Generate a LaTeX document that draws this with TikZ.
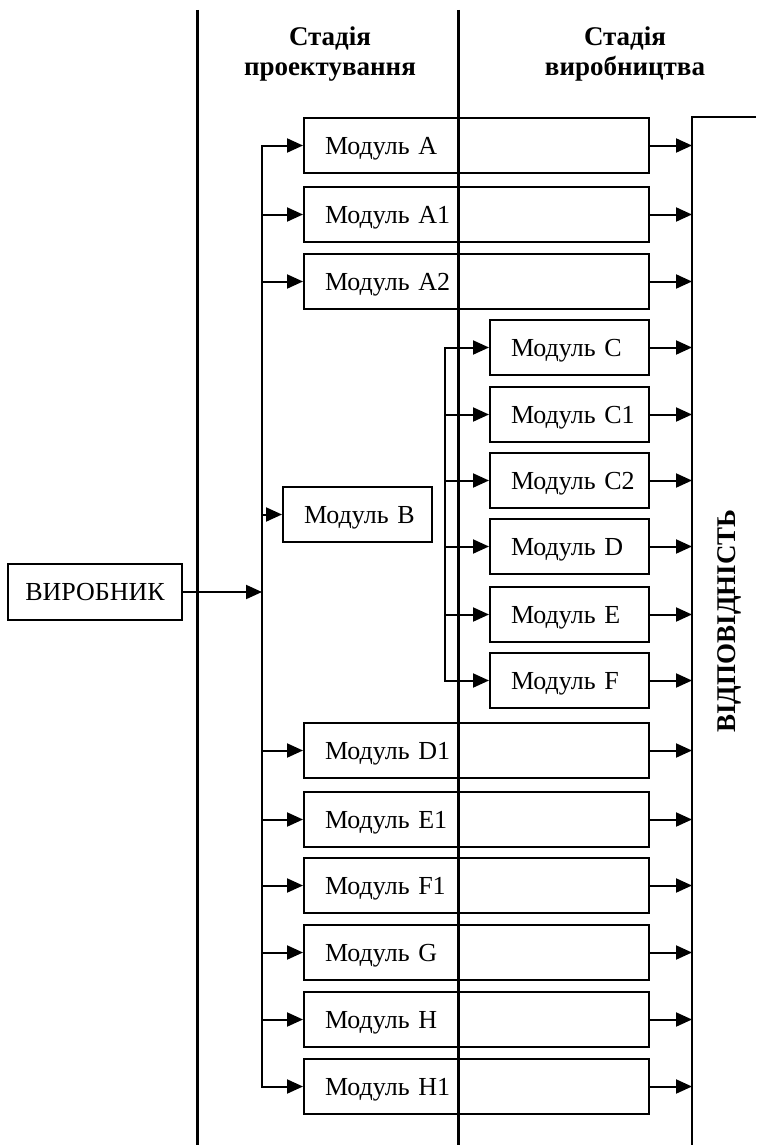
\documentclass[tikz,border=0pt]{standalone}
\usepackage{fontspec}
\setmainfont{Liberation Serif}
\usetikzlibrary{arrows.meta}
\begin{document}
\begin{tikzpicture}[x=1pt,y=-1pt,
  every node/.style={font=\fontsize{26}{30}\selectfont},
  modbox/.style={draw, line width=2pt, minimum height=55pt, inner xsep=21pt, inner ysep=0pt, text depth=0pt, align=left, anchor=north west},
  widebox/.style={modbox, text width=303pt},
  cbox/.style={modbox, text width=117pt},
  bbox/.style={modbox, text width=107pt},
  conn/.style={line width=2pt},
  arr/.style={conn, -{Triangle[length=16pt,width=14pt]}},
  stage/.style={line width=3pt},
  hdr/.style={font=\fontsize{27}{30}\selectfont\bfseries, align=center},
]
\useasboundingbox (0,0) rectangle (756,1145);

% boxes
\node[widebox] (A)  at (303,117) {\mbox{Модуль A}};
\node[widebox] (A1) at (303,186) {\mbox{Модуль A1}};
\node[widebox] (A2) at (303,253) {\mbox{Модуль A2}};
\node[bbox]    (B)  at (282,486) {\mbox{Модуль B}};
\node[cbox]    (C)  at (489,319) {\mbox{Модуль C}};
\node[cbox]    (C1) at (489,386) {\mbox{Модуль C1}};
\node[cbox]    (C2) at (489,452) {\mbox{Модуль C2}};
\node[cbox]    (D)  at (489,518) {\mbox{Модуль D}};
\node[cbox]    (E)  at (489,586) {\mbox{Модуль E}};
\node[cbox]    (F)  at (489,652) {\mbox{Модуль F}};
\node[widebox] (D1) at (303,722) {\mbox{Модуль D1}};
\node[widebox] (E1) at (303,791) {\mbox{Модуль E1}};
\node[widebox] (F1) at (303,857) {\mbox{Модуль F1}};
\node[widebox] (G)  at (303,924) {\mbox{Модуль G}};
\node[widebox] (H)  at (303,991) {\mbox{Модуль H}};
\node[widebox] (H1) at (303,1058) {\mbox{Модуль H1}};

\node[draw, line width=2pt, minimum width=174pt, minimum height=56pt, inner sep=0pt, text depth=0pt] (V) at (95,592) {ВИРОБНИК};

% headers
\node[hdr] (h1) at (330,54) {Стадія\\проектування};
\node[hdr] (h2) at (625,54) {Стадія\\виробництва};
\node[font=\fontsize{27}{30}\selectfont\bfseries, rotate=90] (R) at (729,621) {ВІДПОВІДНІСТЬ};

% stage lines
\coordinate (s1t) at (197,10);
\coordinate (s1b) at (197,1145);
\coordinate (s2t) at (458,10);
\coordinate (s2b) at (458,1145);
\draw[stage] (s1t) -- (s1b);
\draw[stage] (s2t) -- (s2b);

% right frame
\coordinate (rt) at (692,117);
\coordinate (rr) at (756,117);
\coordinate (rb) at (692,1145);
\draw[line width=1.6pt] (rr) -- (rt) -- (rb);

% trunks
\coordinate (tr) at (262,0);
\coordinate (tr2) at (445,0);
\draw[conn, line cap=rect] (tr |- A.west) -- (tr |- H1.west);
\draw[conn, line cap=rect] (tr2 |- C.west) -- (tr2 |- F.west);

\draw[arr] (V.east) -- (tr |- V.east);

\foreach \n in {A,A1,A2,B,D1,E1,F1,G,H,H1}
  \draw[arr] (tr |- \n.west) -- (\n.west);
\foreach \n in {C,C1,C2,D,E,F}
  \draw[arr] (tr2 |- \n.west) -- (\n.west);
\foreach \n in {A,A1,A2,C,C1,C2,D,E,F,D1,E1,F1,G,H,H1}
  \draw[arr] (\n.east) -- (rt |- \n.east);
\end{tikzpicture}
\end{document}
